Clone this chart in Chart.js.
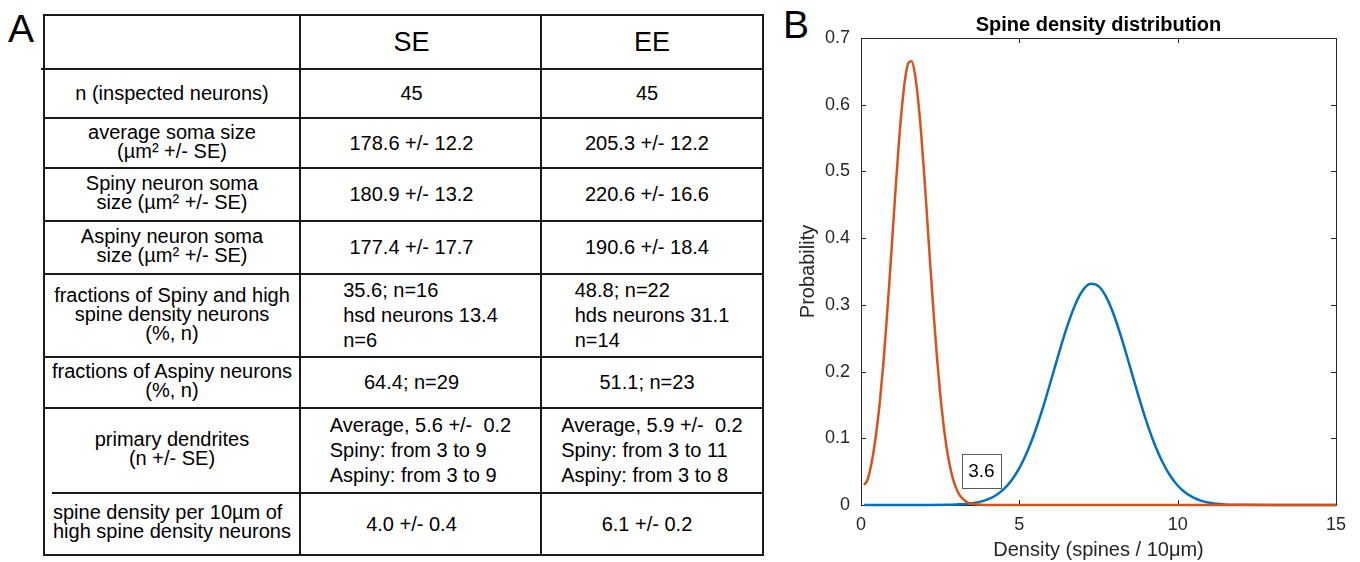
<!DOCTYPE html>
<html>
<head>
<meta charset="utf-8">
<script src="https://cdn.jsdelivr.net/npm/chart.js@4.4.1/dist/chart.umd.min.js"></script>
<style>
  html, body { margin:0; padding:0; background:#fff; }
  body { width:1360px; height:562px; position:relative; overflow:hidden; font-family:"Liberation Sans", Arial, sans-serif; color:#000; }
  .panel { position:absolute; font-size:39px; line-height:39px; }
  .hl { position:absolute; height:2px; background:#1a1a1a; }
  .vl { position:absolute; width:2px; background:#1a1a1a; }
  .cell { position:absolute; display:flex; align-items:center; justify-content:center; box-sizing:border-box; font-size:20px; text-align:center; }
  .lbl { line-height:19px; }
  .val { line-height:25px; }
  .blk { display:inline-block; text-align:left; white-space:pre; }
  .hdr { font-size:27px; }
  #c { position:absolute; left:780px; top:0; }
</style>
</head>
<body>
<div class="panel" style="left:8px;top:9px;">A</div>
<div class="panel" style="left:783px;top:5px;">B</div>
<div id="tbl"></div>
<canvas id="c" width="580" height="562"></canvas>
<script>
// ---------- Panel A table data ----------
const colHeaders = ["", "SE", "EE"];
const rowLabels = [
  ["n (inspected neurons)"],
  ["average soma size", "(µm² +/- SE)"],
  ["Spiny neuron soma", "size (µm² +/- SE)"],
  ["Aspiny neuron soma", "size (µm² +/- SE)"],
  ["fractions of Spiny and high", "spine density neurons", "(%, n)"],
  ["fractions of Aspiny neurons", "(%, n)"],
  ["primary dendrites", "(n +/- SE)"],
  ["spine density per 10µm of", "high spine density neurons"]
];
const seValues = [
  ["45"],
  ["178.6 +/- 12.2"],
  ["180.9 +/- 13.2"],
  ["177.4 +/- 17.7"],
  ["35.6; n=16", "hsd neurons 13.4", "n=6"],
  ["64.4; n=29"],
  ["Average, 5.6 +/-  0.2", "Spiny: from 3 to 9", "Aspiny: from 3 to 9"],
  ["4.0 +/- 0.4"]
];
const eeValues = [
  ["45"],
  ["205.3 +/- 12.2"],
  ["220.6 +/- 16.6"],
  ["190.6 +/- 18.4"],
  ["48.8; n=22", "hds neurons 31.1", "n=14"],
  ["51.1; n=23"],
  ["Average, 5.9 +/-  0.2", "Spiny: from 3 to 11", "Aspiny: from 3 to 8"],
  ["6.1 +/- 0.2"]
];

// ---------- Panel B chart data ----------
const chartTitle = "Spine density distribution";
const xAxisTitle = "Density (spines / 10μm)";
const yAxisTitle = "Probability";
const thresholdLabel = "3.6";
const xTicks = [0, 5, 10, 15];
const yTicks = [0, 0.1, 0.2, 0.3, 0.4, 0.5, 0.6, 0.7];

const orangeX = [0.1,0.2,0.3,0.4,0.5,0.6,0.7,0.8,0.9,1.0,1.1,1.2,1.3,1.4,1.5,1.6,1.7,1.8,1.9,2.0,2.1,2.2,2.3,2.4,2.5,2.6,2.7,2.8,2.9,3.0,3.1,3.2,3.3,3.4,3.5,3.6,3.8,4.0,5,10,15];
const orangeY = [0.030,0.037,0.055,0.081,0.115,0.157,0.209,0.270,0.337,0.408,0.479,0.545,0.600,0.641,0.663,0.665,0.647,0.609,0.557,0.493,0.422,0.351,0.283,0.221,0.167,0.123,0.087,0.060,0.040,0.026,0.016,0.010,0.006,0.003,0.002,0.001,0.0003,0,0,0,0];

const blueX = [0.1,1,2,3,3.5,3.75,4,4.25,4.5,4.75,5,5.25,5.5,5.75,6,6.25,6.5,6.75,7,7.25,7.5,7.75,8,8.25,8.5,8.75,9,9.25,9.5,9.75,10,10.25,10.5,10.75,11,11.5,12,13,15];
const blueY = [0,0,0.00003,0.0006,0.0025,0.0047,0.0084,0.0143,0.0234,0.0368,0.0553,0.0798,0.1105,0.1466,0.1866,0.2277,0.2663,0.2988,0.3214,0.3316,0.3280,0.3111,0.2829,0.2467,0.2063,0.1654,0.1272,0.0938,0.0663,0.0449,0.0292,0.0182,0.0109,0.0062,0.0034,0.0009,0.0002,0,0];

// ---------- build table ----------
(function buildTable(){
  const root = document.getElementById('tbl');
  const xs = [44, 300, 541, 763];
  const ys = [15, 69, 118, 168, 221, 274, 357, 408, 493, 555];
  let html = '';
  ys.forEach((y, i) => {
    let x0 = xs[0];
    if (i === 1) x0 = 41;
    if (i === 8) x0 = 52;
    html += `<div class="hl" style="left:${x0}px;top:${y-1}px;width:${xs[3]-x0+1}px"></div>`;
  });
  xs.forEach(x => {
    html += `<div class="vl" style="left:${x-1}px;top:${ys[0]-1}px;height:${ys[ys.length-1]-ys[0]+2}px"></div>`;
  });
  // header
  for (let c = 1; c < 3; c++) {
    const pr = c === 1 ? 18 : 0;
    html += `<div class="cell hdr" style="left:${xs[c]}px;top:${ys[0]}px;width:${xs[c+1]-xs[c]}px;height:${ys[1]-ys[0]}px;padding-right:${pr}px">${colHeaders[c]}</div>`;
  }
  for (let r = 0; r < rowLabels.length; r++) {
    const top = ys[r+1], h = ys[r+2] - ys[r+1];
    const lab = rowLabels[r];
    if (r === rowLabels.length - 1) {
      html += `<div class="cell lbl" style="left:${xs[0]}px;top:${top}px;width:${xs[1]-xs[0]}px;height:${h}px;justify-content:flex-start;padding-left:9px;padding-bottom:4px"><span class="blk">${lab.join('\n')}</span></div>`;
    } else {
      html += `<div class="cell lbl" style="left:${xs[0]}px;top:${top}px;width:${xs[1]-xs[0]}px;height:${h}px;padding-bottom:${lab.length>1?3:0}px"><span>${lab.join('<br>')}</span></div>`;
    }
    [seValues, eeValues].forEach((vals, k) => {
      const v = vals[r];
      const c = k + 1;
      let inner, pr = 0;
      if (v.length > 1) { inner = `<span class="blk">${v.join('\n')}</span>`; pr = k === 0 ? 0 : -6; }
      else { inner = `<span class="blk">${v[0]}</span>`; pr = k === 0 ? 18 : 10; }
      html += `<div class="cell val" style="left:${xs[c]}px;top:${top}px;width:${xs[c+1]-xs[c]}px;height:${h}px;padding-right:${pr}px">${inner}</div>`;
    });
  }
  root.innerHTML = html;
})();

// ---------- chart ----------
const orangePts = orangeX.map((x, i) => ({x, y: orangeY[i]}));
const bluePts = blueX.map((x, i) => ({x, y: blueY[i]}));
const axisColor = '#262626';
const FONT = '"Liberation Sans", Arial, sans-serif';

const frameTicks = {
  id: 'frameTicks',
  beforeDatasetsDraw(chart) {
    const {ctx, chartArea: {left, right, top, bottom}, scales: {x, y}} = chart;
    ctx.save();
    ctx.strokeStyle = axisColor;
    ctx.lineWidth = 1;
    ctx.beginPath();
    ctx.rect(Math.round(left) + 0.5, Math.round(top) + 0.5, Math.round(right - left), Math.round(bottom - top));
    xTicks.forEach(v => {
      const px = Math.round(x.getPixelForValue(v)) + 0.5;
      ctx.moveTo(px, bottom); ctx.lineTo(px, bottom - 5);
      ctx.moveTo(px, top); ctx.lineTo(px, top + 5);
    });
    yTicks.forEach(v => {
      const py = Math.round(y.getPixelForValue(v)) + 0.5;
      ctx.moveTo(left, py); ctx.lineTo(left + 5, py);
      ctx.moveTo(right, py); ctx.lineTo(right - 5, py);
    });
    ctx.stroke();
    ctx.restore();
  },
  afterDatasetsDraw(chart) {
    const {ctx, scales: {x, y}} = chart;
    const cx = x.getPixelForValue(3.8), cy = y.getPixelForValue(0.0515);
    ctx.save();
    ctx.strokeStyle = '#5a5a5a';
    ctx.lineWidth = 1;
    ctx.strokeRect(Math.round(cx - 19.5) + 0.5, Math.round(cy - 17) + 0.5, 39, 34);
    ctx.fillStyle = '#000';
    ctx.font = '19px ' + FONT;
    ctx.textAlign = 'center';
    ctx.textBaseline = 'middle';
    ctx.fillText(thresholdLabel, cx, cy + 1);
    ctx.restore();
  }
};

new Chart(document.getElementById('c'), {
  type: 'line',
  data: {
    datasets: [
      { label: 'SE', data: orangePts, borderColor: '#D95319', borderWidth: 2.5, pointRadius: 0, fill: false, cubicInterpolationMode: 'monotone', clip: 4 },
      { label: 'EE', data: bluePts, borderColor: '#0072BD', borderWidth: 2.5, pointRadius: 0, fill: false, cubicInterpolationMode: 'monotone', clip: 4 }
    ]
  },
  options: {
    responsive: false,
    devicePixelRatio: 1,
    animation: false,
    layout: { padding: { left: 0, right: 24, top: 0, bottom: 0 } },
    plugins: {
      legend: { display: false },
      tooltip: { enabled: false },
      title: {
        display: true, text: chartTitle, fullSize: false, color: '#000',
        font: { family: FONT, size: 20, weight: 'bold' },
        padding: { top: 13, bottom: 1 }
      }
    },
    scales: {
      x: {
        type: 'linear', min: 0, max: 15,
        afterFit: s => { s.height = 57; },
        afterBuildTicks: s => { s.ticks = xTicks.map(v => ({value: v})); },
        grid: { display: false, drawTicks: false },
        border: { display: false },
        ticks: { color: axisColor, padding: 9, font: { family: FONT, size: 18 }, callback: v => String(v), maxRotation: 0 },
        title: { display: true, text: xAxisTitle, color: axisColor, font: { family: FONT, size: 20 }, padding: { top: 0, bottom: 0 } }
      },
      y: {
        type: 'linear', min: 0, max: 0.7,
        afterFit: s => { s.width = 81; },
        afterBuildTicks: s => { s.ticks = yTicks.map(v => ({value: v})); },
        grid: { display: false, drawTicks: false },
        border: { display: false },
        ticks: { color: axisColor, padding: 11, font: { family: FONT, size: 18 }, callback: v => (v === 0 ? '0' : Number(v).toFixed(1)) },
        title: { display: true, text: yAxisTitle, color: axisColor, font: { family: FONT, size: 20 }, padding: { top: 16, bottom: 0 } }
      }
    }
  },
  plugins: [frameTicks]
});
</script>
</body>
</html>
